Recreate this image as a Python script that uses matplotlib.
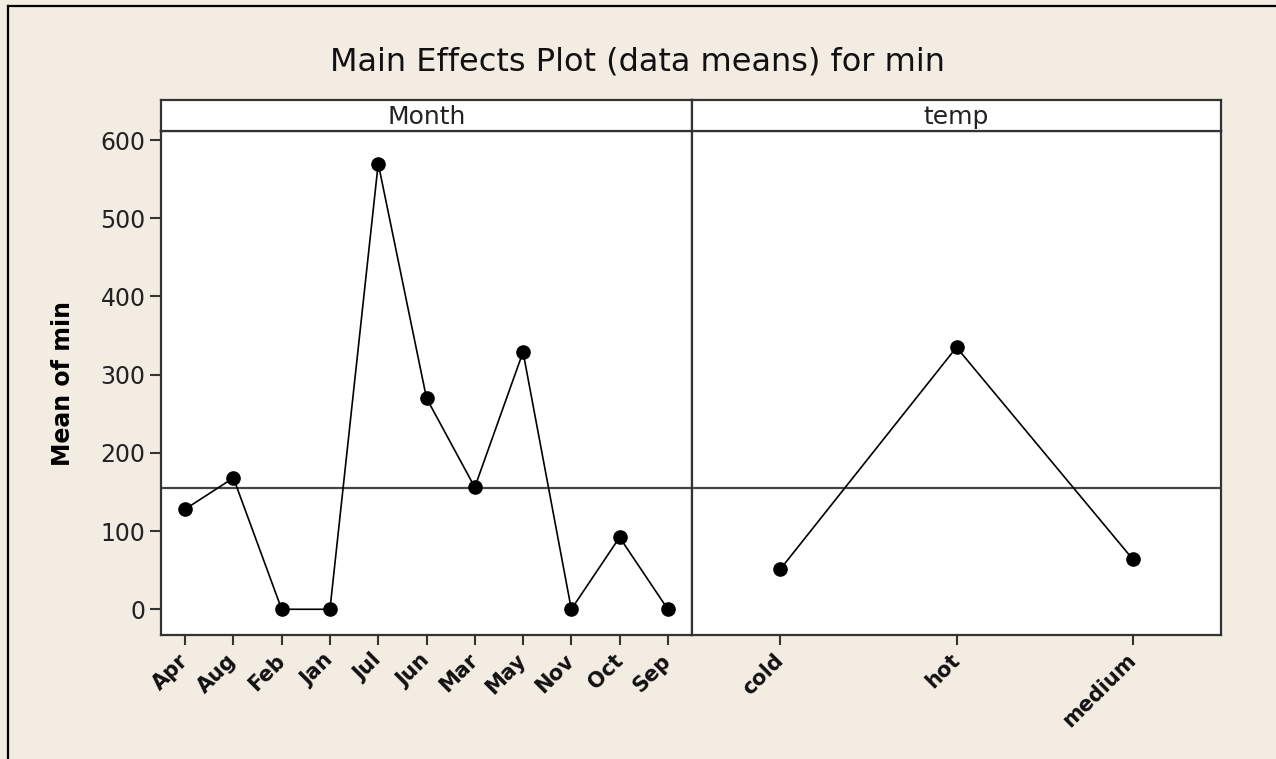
import matplotlib
matplotlib.use("Agg")
import matplotlib.pyplot as plt
from matplotlib.lines import Line2D

# ── Data ──────────────────────────────────────────────────
MONTHS      = ["Apr", "Aug", "Feb", "Jan", "Jul", "Jun", "Mar", "May", "Nov", "Oct", "Sep"]
MONTH_MEANS = [128, 168, 0, 0, 570, 270, 156, 329, 0, 92, 0]
TEMPS       = ["cold", "hot", "medium"]
TEMP_MEANS  = [51, 335, 64]
GRAND_MEAN  = 155.5
Y_TICKS     = [0, 100, 200, 300, 400, 500, 600]

BG     = "#F3ECE2"
SPINE  = "#333333"
W, H   = 1276, 759

plt.rcParams["font.family"] = ["DejaVu Sans"]

fig = plt.figure(figsize=(W / 100, H / 100), dpi=100)
fig.patch.set_facecolor(BG)

# panel geometry in pixels
left, mid, right = 161, 692, 1221
plot_top, plot_bot, strip_top = 131, 635, 100

def fx(px):
    return px / W

def fy(py):
    return 1 - py / H

panels = [
    (left, mid, MONTHS, MONTH_MEANS, "Month"),
    (mid, right, TEMPS, TEMP_MEANS, "temp"),
]

for i, (x0, x1, cats, vals, name) in enumerate(panels):
    ax = fig.add_axes([fx(x0), fy(plot_bot), fx(x1) - fx(x0), fy(plot_top) - fy(plot_bot)])
    ax.set_facecolor("white")
    xs = list(range(len(cats)))
    ax.axhline(GRAND_MEAN, color="#444444", linewidth=1.6, zorder=1)
    ax.plot(xs, vals, color="black", linewidth=1.2, marker="o",
            markersize=9.5, markerfacecolor="black", markeredgecolor="black", zorder=3)
    ax.set_xlim(-0.5, len(cats) - 0.5)
    ax.set_ylim(-32.9, 611.6)
    ax.set_xticks(xs)
    # anchor at right-centre so the label's top-right end sits under the tick
    ax.set_xticklabels(cats, rotation=45, ha="right", va="center", rotation_mode="anchor",
                       fontsize=15, fontweight="bold", color="#111111")
    ax.tick_params(axis="x", direction="out", length=7, width=1.5, color=SPINE, pad=9)
    if i == 0:
        ax.set_yticks(Y_TICKS)
        ax.set_yticklabels([str(v) for v in Y_TICKS], fontsize=17, color="#222222")
        ax.tick_params(axis="y", direction="out", length=8, width=1.5, color=SPINE, pad=3)
        ax.set_ylabel("Mean of min", fontsize=17, fontweight="bold", labelpad=18)
    else:
        ax.set_yticks([])
    for sp in ax.spines.values():
        sp.set_color(SPINE)
        sp.set_linewidth(1.6)

    # strip header
    sax = fig.add_axes([fx(x0), fy(plot_top), fx(x1) - fx(x0), fy(strip_top) - fy(plot_top)])
    sax.set_facecolor("white")
    sax.set_xticks([])
    sax.set_yticks([])
    for sp in sax.spines.values():
        sp.set_color(SPINE)
        sp.set_linewidth(1.6)
    sax.text(0.5, 0.45, name, ha="center", va="center", fontsize=18,
             color="#222222", transform=sax.transAxes)

fig.text(0.5, fy(62), "Main Effects Plot (data means) for min",
         ha="center", va="center", fontsize=23, color="#111111")

# outer frame lines (top and left edges)
fig.add_artist(Line2D([fx(8), 1], [fy(6), fy(6)], color="black", linewidth=1.6))
fig.add_artist(Line2D([fx(8), fx(8)], [0, fy(6)], color="black", linewidth=1.6))

fig.savefig("out.png", dpi=100, facecolor=BG)
